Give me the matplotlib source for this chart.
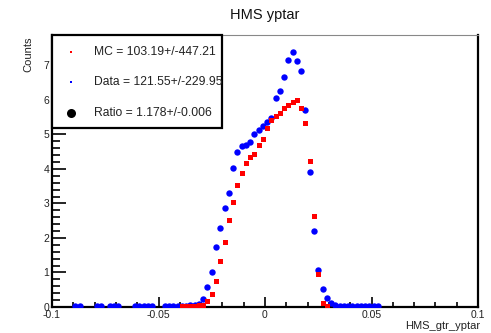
import matplotlib
matplotlib.use("Agg")
import matplotlib.pyplot as plt
from matplotlib.patches import Rectangle
from matplotlib.ticker import MultipleLocator

plt.rcParams['font.family'] = ['Liberation Sans', 'DejaVu Sans']

# ---- data (bin centers, bin width 0.002) ----
mc_x = [-0.039, -0.037, -0.035, -0.033, -0.031, -0.029, -0.027, -0.025, -0.023,
        -0.021, -0.019, -0.017, -0.015, -0.013, -0.011, -0.009, -0.007, -0.005,
        -0.003, -0.001, 0.001, 0.003, 0.005, 0.007, 0.009, 0.011, 0.013, 0.015,
        0.017, 0.019, 0.021, 0.023, 0.025, 0.027, 0.029]
mc_y = [0.02, 0.03, 0.03, 0.04, 0.05, 0.07, 0.17, 0.38, 0.74,
        1.33, 1.88, 2.53, 3.04, 3.53, 3.88, 4.16, 4.35, 4.43,
        4.68, 4.88, 5.19, 5.42, 5.52, 5.63, 5.76, 5.86, 5.95, 6.00,
        5.76, 5.33, 4.22, 2.64, 0.97, 0.13, 0.02]

data_x = [-0.089, -0.087, -0.079, -0.077, -0.073, -0.071, -0.069, -0.061, -0.059,
          -0.057, -0.055, -0.053, -0.047, -0.045, -0.043, -0.041, -0.039, -0.037,
          -0.035, -0.033, -0.031, -0.029, -0.027, -0.025, -0.023, -0.021, -0.019,
          -0.017, -0.015, -0.013, -0.011, -0.009, -0.007, -0.005, -0.003, -0.001,
          0.001, 0.003, 0.005, 0.007, 0.009, 0.011, 0.013, 0.015, 0.017, 0.019,
          0.021, 0.023, 0.025, 0.027, 0.029, 0.031, 0.033, 0.035, 0.037, 0.039,
          0.041, 0.043, 0.045, 0.047, 0.049, 0.051, 0.053]
data_y = [0.03, 0.03, 0.03, 0.03, 0.03, 0.03, 0.03, 0.03, 0.03,
          0.03, 0.03, 0.03, 0.03, 0.03, 0.03, 0.03, 0.04, 0.04,
          0.05, 0.05, 0.10, 0.24, 0.58, 1.01, 1.74, 2.28, 2.88,
          3.31, 4.04, 4.50, 4.65, 4.70, 4.78, 5.01, 5.12, 5.23,
          5.37, 5.47, 6.05, 6.25, 6.65, 7.15, 7.40, 7.14, 6.85, 5.71,
          3.90, 2.20, 1.06, 0.51, 0.27, 0.11, 0.05, 0.04, 0.03, 0.03,
          0.03, 0.03, 0.03, 0.03, 0.03, 0.03, 0.03]

title = "HMS yptar"
xlabel = "HMS_gtr_yptar"
ylabel = "Counts"
legend_texts = ["MC = 103.19+/-447.21", "Data = 121.55+/-229.95", "Ratio = 1.178+/-0.006"]

W, H = 491, 333
fig = plt.figure(figsize=(W / 100, H / 100), dpi=100)
ax = fig.add_axes([52 / W, 1 - 307 / H, (478 - 52) / W, (307 - 35) / H])

ax.plot(data_x, data_y, linestyle='none', marker='o', ms=4.6, color='#0000ff', mew=0, zorder=3)
ax.plot(mc_x, mc_y, linestyle='none', marker='s', ms=3.6, color='#ff0000', mew=0, zorder=4)

ax.set_xlim(-0.1, 0.1)
ax.set_ylim(0, 7.88)

ax.xaxis.set_major_locator(MultipleLocator(0.05))
ax.xaxis.set_minor_locator(MultipleLocator(0.01))
ax.yaxis.set_major_locator(MultipleLocator(1))
ax.yaxis.set_minor_locator(MultipleLocator(0.2))
ax.set_yticks([0, 1, 2, 3, 4, 5, 6, 7])
ax.set_xticks([-0.1, -0.05, 0, 0.05, 0.1])
ax.set_xticklabels(["-0.1", "-0.05", "0", "0.05", "0.1"])
ax.set_yticklabels(["0", "1", "2", "3", "4", "5", "6", "7"])

ax.tick_params(axis='both', which='both', direction='in', colors='black',
               labelsize=7.5, labelcolor='#222222', top=False, right=False)
ax.tick_params(axis='x', which='major', length=7, width=1.2, pad=2)
ax.tick_params(axis='x', which='minor', length=3.5, width=1.2)
ax.tick_params(axis='y', which='major', length=10, width=1.2, pad=2)
ax.tick_params(axis='y', which='minor', length=6, width=1.2)

for s in ['left', 'bottom', 'right']:
    ax.spines[s].set_linewidth(1.6)
    ax.spines[s].set_color('black')
ax.spines['top'].set_linewidth(0.8)
ax.spines['top'].set_color('#888888')

fig.text(265 / W, 1 - 15 / H, title, ha='center', va='center', fontsize=10.5, color='#111111')
fig.text(1 - 11 / W, 1 - 326 / H, xlabel, ha='right', va='center', fontsize=8, color='#222222')
fig.text(28 / W, 1 - 36 / H, ylabel, ha='center', va='top', rotation=90, fontsize=8, color='#222222')

# legend box
lx1 = (222 - 52) / 426
ly0 = (307 - 128) / 272
ax.add_patch(Rectangle((0, ly0), lx1, 1 - ly0, transform=ax.transAxes, fill=True,
                       facecolor='white', edgecolor='black', lw=1.6, zorder=6, clip_on=False))
rows = [(307 - 52) / 272, (307 - 82) / 272, (307 - 113) / 272]
mx = (71 - 52) / 426
tx = (94 - 52) / 426
ax.plot([mx], [rows[0]], transform=ax.transAxes, marker='s', ms=2.0, color='#ff0000', mew=0, zorder=7, clip_on=False)
ax.plot([mx], [rows[1]], transform=ax.transAxes, marker='s', ms=2.0, color='#0000ff', mew=0, zorder=7, clip_on=False)
ax.plot([mx], [rows[2]], transform=ax.transAxes, marker='o', ms=6.5, color='black', mew=0, zorder=7, clip_on=False)
for r, t in zip(rows, legend_texts):
    ax.text(tx, r, t, transform=ax.transAxes, ha='left', va='center', fontsize=8.7,
            color='#222222', zorder=8)

fig.savefig("out.png", dpi=100)
